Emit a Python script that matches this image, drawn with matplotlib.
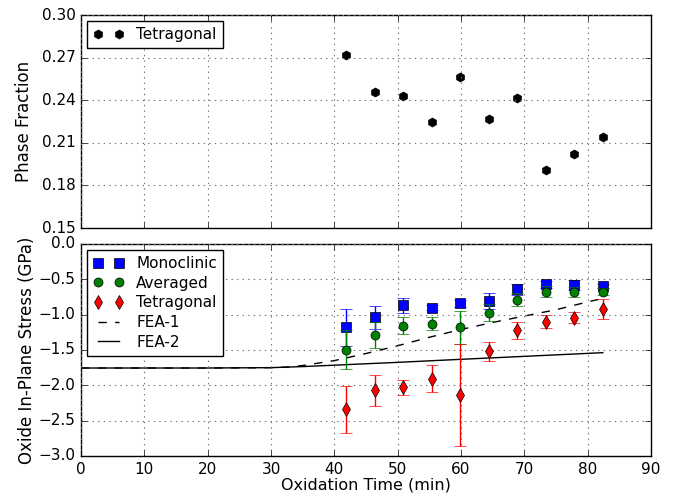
import matplotlib
matplotlib.use('Agg')
import matplotlib.pyplot as plt

plt.style.use('classic')
plt.rcParams['figure.facecolor'] = 'white'
plt.rcParams['savefig.facecolor'] = 'white'
plt.rcParams['font.family'] = ['DejaVu Sans']

# oxidation times (min)
time = [41.9, 46.4, 50.9, 55.4, 59.9, 64.4, 68.9, 73.4, 77.9, 82.4]

# top panel: tetragonal phase fraction
tet_frac = [0.272, 0.2455, 0.2427, 0.2246, 0.2563, 0.2268, 0.2415, 0.1911, 0.2021, 0.2139]

# bottom panel: in-plane stress (GPa)
mono = [-1.18, -1.04, -0.87, -0.90, -0.84, -0.81, -0.64, -0.57, -0.58, -0.59]
mono_err = [0.26, 0.16, 0.11, 0.03, 0.05, 0.11, 0.08, 0.05, 0.07, 0.03]
avg = [-1.495, -1.29, -1.155, -1.13, -1.18, -0.975, -0.79, -0.675, -0.675, -0.675]
avg_err = [0.28, 0.18, 0.12, 0.09, 0.23, 0.12, 0.09, 0.08, 0.07, 0.05]
tet = [-2.34, -2.07, -2.03, -1.905, -2.135, -1.52, -1.22, -1.10, -1.045, -0.92]
tet_err = [0.33, 0.22, 0.11, 0.19, 0.72, 0.14, 0.12, 0.09, 0.08, 0.14]

# FEA model curves
fea1_t = [0, 10, 20, 30, 33, 35, 40, 45, 50, 55, 60, 65, 70, 75, 80, 82.4]
fea1 = [-1.755, -1.755, -1.755, -1.75, -1.74, -1.72, -1.65, -1.55, -1.44, -1.32, -1.21, -1.11, -1.02, -0.93, -0.82, -0.77]
fea2_t = [0, 10, 20, 30, 35, 40, 50, 60, 70, 82.4]
fea2 = [-1.755, -1.755, -1.755, -1.75, -1.735, -1.715, -1.675, -1.632, -1.59, -1.538]

fig = plt.figure(figsize=(6.73, 4.97), dpi=100)
ax1 = fig.add_axes([0.1204, 0.5412, 0.8469, 0.4286])
ax2 = fig.add_axes([0.1204, 0.0825, 0.8469, 0.4266])

grid_kw = dict(color='0.45', linestyle=':', linewidth=0.8)

# ---- top panel ----
ax1.plot(time, tet_frac, 'h', color='k', mec='k', markersize=6.5, label='Tetragonal')
ax1.set_xlim(0, 90)
ax1.set_ylim(0.15, 0.30)
ax1.set_yticks([0.15, 0.18, 0.21, 0.24, 0.27, 0.30])
ax1.set_xticks(range(0, 91, 10))
ax1.set_xticklabels([])
ax1.set_ylabel('Phase Fraction', fontsize=12, labelpad=6)
ax1.tick_params(labelsize=11)
ax1.grid(True, **grid_kw)
ax1.legend(loc='upper left', numpoints=2, fontsize=11, borderaxespad=0.4)

# ---- bottom panel ----
series = [
    (mono, mono_err, 's', 'b', 6.5, 'Monoclinic'),
    (avg, avg_err, 'o', 'g', 6.5, 'Averaged'),
    (tet, tet_err, 'd', 'r', 7.5, 'Tetragonal'),
]
for i, (vals, errs, mk, col, ms, lab) in enumerate(series):
    ax2.errorbar(time, vals, yerr=errs, fmt='none', ecolor=col, elinewidth=1,
                 capsize=4, zorder=3 + i)
    ax2.plot(time, vals, mk, color=col, mec='k', markersize=ms, label=lab, zorder=3 + i)
ax2.plot(fea1_t, fea1, '--', color='k', linewidth=1, label='FEA-1')
ax2.plot(fea2_t, fea2, '-', color='k', linewidth=1, label='FEA-2')
ax2.set_xlim(0, 90)
ax2.set_ylim(-3.0, 0.0)
ax2.set_xticks(range(0, 91, 10))
ax2.set_yticks([-3.0, -2.5, -2.0, -1.5, -1.0, -0.5, 0.0])
ax2.set_xlabel('Oxidation Time (min)', fontsize=11.5, labelpad=1)
ax2.set_ylabel('Oxide In-Plane Stress (GPa)', fontsize=12, labelpad=2)
ax2.tick_params(labelsize=11)
ax2.grid(True, **grid_kw)
ax2.legend(loc='upper left', numpoints=2, fontsize=11, borderaxespad=0.4,
           labelspacing=0.3)

fig.savefig('out.png', dpi=100)
